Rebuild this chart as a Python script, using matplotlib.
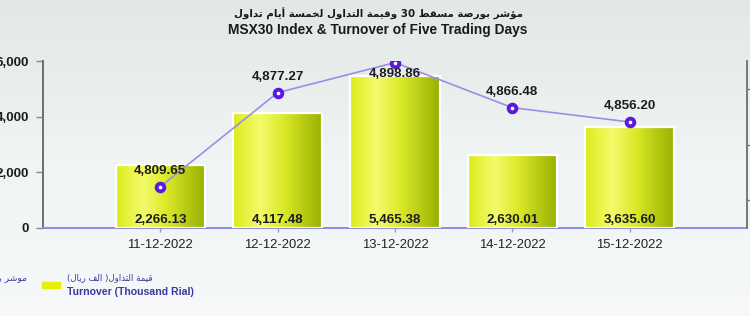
import re
import numpy as np
import matplotlib
matplotlib.use("Agg")
import matplotlib.pyplot as plt
from matplotlib.colors import LinearSegmentedColormap

# ---------------- data ----------------
dates = ["11-12-2022", "12-12-2022", "13-12-2022", "14-12-2022", "15-12-2022"]
turnover = [2266.13, 4117.48, 5465.38, 2630.01, 3635.60]
index_vals = [4809.65, 4877.27, 4898.86, 4866.48, 4856.20]
left_ticks = [0, 2000, 4000, 6000]
left_ticklabels = ["0", "2,000", "4,000", "6,000"]
right_ticks = [4800, 4840, 4880]
right_ticklabels = ["4,800", "4,840", "4,880"]

title_ar = "مؤشر بورصة مسقط 30 وقيمة التداول لخمسة أيام تداول"
title_en = "MSX30 Index & Turnover of Five Trading Days"
legend_line_ar = "موشر بورصة مسقط 30"
legend_bar_ar = "قيمة التداول( الف ريال)"
legend_bar_en = "Turnover (Thousand Rial)"

# ---------------- minimal Arabic shaping ----------------
_F = {
    'ء': (0xFE80,), 'آ': (0xFE81, 0xFE82), 'أ': (0xFE83, 0xFE84), 'ؤ': (0xFE85, 0xFE86),
    'إ': (0xFE87, 0xFE88), 'ئ': (0xFE89, 0xFE8A, 0xFE8B, 0xFE8C), 'ا': (0xFE8D, 0xFE8E),
    'ب': (0xFE8F, 0xFE90, 0xFE91, 0xFE92), 'ة': (0xFE93, 0xFE94),
    'ت': (0xFE95, 0xFE96, 0xFE97, 0xFE98), 'ث': (0xFE99, 0xFE9A, 0xFE9B, 0xFE9C),
    'ج': (0xFE9D, 0xFE9E, 0xFE9F, 0xFEA0), 'ح': (0xFEA1, 0xFEA2, 0xFEA3, 0xFEA4),
    'خ': (0xFEA5, 0xFEA6, 0xFEA7, 0xFEA8), 'د': (0xFEA9, 0xFEAA), 'ذ': (0xFEAB, 0xFEAC),
    'ر': (0xFEAD, 0xFEAE), 'ز': (0xFEAF, 0xFEB0), 'س': (0xFEB1, 0xFEB2, 0xFEB3, 0xFEB4),
    'ش': (0xFEB5, 0xFEB6, 0xFEB7, 0xFEB8), 'ص': (0xFEB9, 0xFEBA, 0xFEBB, 0xFEBC),
    'ض': (0xFEBD, 0xFEBE, 0xFEBF, 0xFEC0), 'ط': (0xFEC1, 0xFEC2, 0xFEC3, 0xFEC4),
    'ظ': (0xFEC5, 0xFEC6, 0xFEC7, 0xFEC8), 'ع': (0xFEC9, 0xFECA, 0xFECB, 0xFECC),
    'غ': (0xFECD, 0xFECE, 0xFECF, 0xFED0), 'ف': (0xFED1, 0xFED2, 0xFED3, 0xFED4),
    'ق': (0xFED5, 0xFED6, 0xFED7, 0xFED8), 'ك': (0xFED9, 0xFEDA, 0xFEDB, 0xFEDC),
    'ل': (0xFEDD, 0xFEDE, 0xFEDF, 0xFEE0), 'م': (0xFEE1, 0xFEE2, 0xFEE3, 0xFEE4),
    'ن': (0xFEE5, 0xFEE6, 0xFEE7, 0xFEE8), 'ه': (0xFEE9, 0xFEEA, 0xFEEB, 0xFEEC),
    'و': (0xFEED, 0xFEEE), 'ى': (0xFEEF, 0xFEF0), 'ي': (0xFEF1, 0xFEF2, 0xFEF3, 0xFEF4),
}


def ar(s):
    out = []
    for i, c in enumerate(s):
        if c not in _F:
            out.append(c)
            continue
        f = _F[c]
        prev = s[i - 1] if i > 0 else ""
        nxt = s[i + 1] if i + 1 < len(s) else ""
        pj = prev in _F and len(_F[prev]) == 4 and len(f) >= 2
        nj = nxt in _F and nxt != "ء" and len(f) == 4
        if pj and nj:
            g = f[3]
        elif pj:
            g = f[1]
        elif nj:
            g = f[2]
        else:
            g = f[0]
        out.append(chr(g))
    shaped = "".join(out)
    toks = re.findall(r"[0-9A-Za-z.,]+|.", shaped)
    mirror = {"(": ")", ")": "("}
    return "".join(mirror.get(t, t) for t in reversed(toks))


# ---------------- figure ----------------
plt.rcParams["font.family"] = ["Liberation Sans", "DejaVu Sans"]
W, H = 750, 316
fig = plt.figure(figsize=(W / 100, H / 100), dpi=100)

# background gradient
bg = fig.add_axes([0, 0, 1, 1], zorder=-10)
grad = np.linspace(0, 1, 256).reshape(-1, 1)
bg_cmap = LinearSegmentedColormap.from_list("bg", ["#e2e8e6", "#f0f4f4", "#f6f8f9"])
bg.imshow(grad, aspect="auto", cmap=bg_cmap, extent=(0, 1, 0, 1), origin="upper")
bg.set_axis_off()

ax = fig.add_axes([43 / W, 1 - 228 / H, (747 - 43) / W, (228 - 61) / H])
ax.set_facecolor("none")
x = np.arange(len(dates))

bar_cmap = LinearSegmentedColormap.from_list(
    "bar", [(0.0, "#dcec1a"), (0.3, "#f4fb6c"), (0.55, "#dcea2a"), (1.0, "#98b000")])
bars = ax.bar(x, turnover, width=0.76, color="#e0ee20", edgecolor="white",
              linewidth=1.6, zorder=2)
hgrad = np.linspace(0, 1, 200).reshape(1, -1)
for b in bars:
    x0, y0 = b.get_x(), b.get_y()
    im = ax.imshow(hgrad, cmap=bar_cmap, aspect="auto", zorder=2.5,
                   extent=(x0, x0 + b.get_width(), y0, y0 + b.get_height()))
    im.set_clip_path(b)
    ax.add_patch(plt.Rectangle((x0, y0), b.get_width(), b.get_height(), fill=False,
                               edgecolor="white", linewidth=1.6, zorder=2.6))

for xi, v in zip(x, turnover):
    ax.annotate(f"{v:,.2f}", (xi, 0), xytext=(0, 8), textcoords="offset pixels",
                ha="center", va="center", fontsize=9.6, fontweight="bold",
                color="#1c1c1c", zorder=5)

ax.set_xlim(-1, len(dates))
ax.set_ylim(0, 6000)
ax.set_yticks(left_ticks)
ax.set_yticklabels(left_ticklabels)
ax.set_xticks(x)
ax.set_xticklabels(dates)
ax.tick_params(axis="y", length=5, width=1, color="#888888", pad=5,
               labelsize=9.6, labelcolor="#1c1c1c")
for lab in ax.get_yticklabels():
    lab.set_fontweight("bold")
ax.tick_params(axis="x", length=3, width=1, color="#9999cc", pad=5,
               labelsize=9.4, labelcolor="#222222")
ax.spines["left"].set_color("#6e6e6e")
ax.spines["left"].set_linewidth(1.4)
ax.spines["bottom"].set_color("#8c8ce0")
ax.spines["bottom"].set_linewidth(1.4)
ax.spines["top"].set_visible(False)
ax.spines["right"].set_visible(False)

# index line on twin axis
ax2 = ax.twinx()
ax2.set_facecolor("none")
ax2.plot(x, index_vals, color="#9a8ee6", linewidth=1.2, zorder=3,
         marker="o", markersize=5.5, markerfacecolor="white",
         markeredgecolor="#5a18e0", markeredgewidth=2.8)
ax2.set_ylim(4780, 4900)
ax2.set_yticks(right_ticks)
ax2.set_yticklabels(right_ticklabels)
ax2.tick_params(axis="y", length=4, width=1, color="#777777", labelsize=9.6)
ax2.spines["right"].set_color("#777777")
ax2.spines["right"].set_linewidth(1.4)
for s in ("top", "left", "bottom"):
    ax2.spines[s].set_visible(False)

top_i = int(np.argmax(index_vals))
for i, v in enumerate(index_vals):
    dy = -11 if i == top_i else 16
    ax2.annotate(f"{v:,.2f}", (x[i], v), xytext=(0, dy), textcoords="offset pixels",
                 ha="center", va="center", fontsize=9.6, fontweight="bold",
                 color="#1c1c1c", zorder=6)

# titles
fig.text(0.505, 1 - 14 / H, ar(title_ar), ha="center", va="center",
         fontsize=7.4, fontweight="bold", family=["DejaVu Sans"], color="#1a1a1a")
fig.text(0.503, 1 - 30 / H, title_en, ha="center", va="center",
         fontsize=9.9, fontweight="bold", color="#1a1a1a")

# legend (manual, partially clipped like the reference)
fig.text(27 / W, 1 - 278 / H, ar(legend_line_ar), ha="right", va="center",
         fontsize=6.6, family=["DejaVu Sans"], color="#3a3aa0")
fig.patches.append(plt.Rectangle((42 / W, 1 - 288 / H), 18 / W, 6 / H,
                                 transform=fig.transFigure, color="#e6f000", figure=fig))
fig.text(67 / W, 1 - 278 / H, ar(legend_bar_ar), ha="left", va="center",
         fontsize=6.2, family=["DejaVu Sans"], color="#3a3aa0")
fig.text(67 / W, 1 - 292 / H, legend_bar_en, ha="left", va="center",
         fontsize=7.6, fontweight="bold", color="#3a3aa0")

fig.savefig("out.png", dpi=100)
